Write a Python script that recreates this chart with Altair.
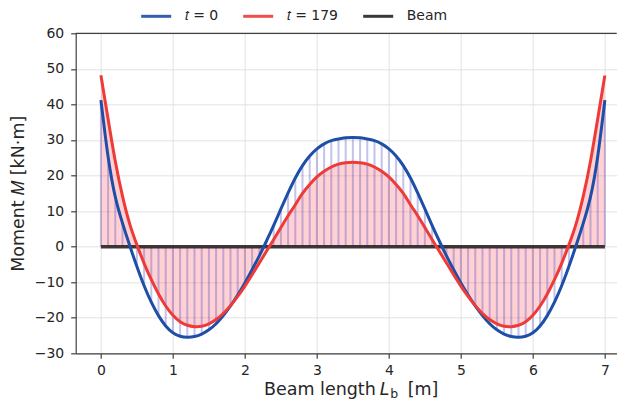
import altair as alt
import pandas as pd

# ---------------- data ----------------
x_pos = [round(i * 0.1, 1) for i in range(71)]  # sample positions along the beam [m]

m_t0 = [41.2, 25.3, 14.0, 6.6, 0.3, -5.6, -11.0, -15.6, -19.4, -22.3, -24.2, -25.2,
        -25.5, -25.3, -24.6, -23.4, -21.7, -19.4, -16.7, -13.6, -10.2, -6.5, -2.6, 1.6,
        6.0, 10.6, 15.1, 19.3, 22.8, 25.5, 27.5, 28.9, 29.8, 30.3, 30.6, 30.7, 30.6,
        30.3, 29.8, 28.9, 27.5, 25.5, 22.8, 19.3, 15.1, 10.6, 6.0, 1.6, -2.6, -6.5,
        -10.2, -13.6, -16.7, -19.4, -21.7, -23.4, -24.6, -25.3, -25.5, -25.2, -24.2,
        -22.3, -19.4, -15.6, -11.0, -5.6, 0.3, 6.6, 14.0, 25.3, 41.2]

m_t179 = [48.2, 35.9, 24.0, 14.2, 6.4, 0.5, -4.7, -9.3, -13.3, -16.7, -19.3, -21.1,
          -22.1, -22.5, -22.4, -21.7, -20.5, -18.8, -16.6, -14.0, -11.1, -7.9, -4.6, -1.3,
          2.0, 5.4, 8.7, 11.8, 15.0, 17.5, 19.6, 21.2, 22.4, 23.2, 23.6, 23.7, 23.6,
          23.2, 22.4, 21.2, 19.6, 17.5, 15.0, 11.8, 8.7, 5.4, 2.0, -1.3, -4.6, -7.9,
          -11.1, -14.0, -16.6, -18.8, -20.5, -21.7, -22.4, -22.5, -22.1, -21.1, -19.3,
          -16.7, -13.3, -9.3, -4.7, 0.5, 6.4, 14.2, 24.0, 35.9, 48.2]

beam_x = [0.0, 7.0]
beam_m = [0.0, 0.0]

series = ["𝑡 = 0", "𝑡 = 179", "Beam"]
series_colors = ["#1d4fa6", "#ee3b37", "#2a2222"]

x_ticks = [0, 1, 2, 3, 4, 5, 6, 7]
y_ticks = [-30, -20, -10, 0, 10, 20, 30, 40, 50, 60]

y_title = "Moment 𝑀 [kN·m]"
x_title_parts = ["Beam length", "L", "b", "[m]"]

FONT = "DejaVu Sans"
TXT = "#262626"
SPINE = "#404040"

W, H = 541, 320  # plot area in px

# ---------------- tables ----------------
wide = pd.DataFrame({"x": x_pos, "t0": m_t0, "t179": m_t179})
curves = pd.concat([
    pd.DataFrame({"x": x_pos, "M": m_t0, "series": series[0]}),
    pd.DataFrame({"x": x_pos, "M": m_t179, "series": series[1]}),
], ignore_index=True)
beam = pd.DataFrame({"x": beam_x, "M": beam_m, "series": series[2]})

xscale = alt.Scale(domain=[-0.35, 7.164], nice=False, zero=False)
yscale = alt.Scale(domain=[-30, 60], nice=False, zero=False)

minus_expr = "datum.value < 0 ? '−' + format(-datum.value, 'd') : format(datum.value, 'd')"


def X():
    return alt.X("x:Q", scale=xscale, title=None,
                 axis=alt.Axis(values=x_ticks, format="d", labelPadding=5.5))


def Y(field):
    return alt.Y(f"{field}:Q", scale=yscale, title=y_title,
                 axis=alt.Axis(values=y_ticks, labelExpr=minus_expr))


color = alt.Color(
    "series:N",
    scale=alt.Scale(domain=series, range=series_colors),
    legend=alt.Legend(
        title=None, orient="none", direction="horizontal",
        legendX=64, legendY=-33.5,
        symbolType="stroke", symbolSize=900, symbolStrokeWidth=3,
        labelFont=FONT, labelFontSize=14, labelColor=TXT,
        labelOffset=12, columnPadding=18, gridAlign="none",
    ),
)

area = alt.Chart(wide).mark_area(color="#ff4d5a", opacity=0.26, interpolate="natural").encode(
    x=X(), y=Y("t179"), y2=alt.datum(0)
)

rules = alt.Chart(wide).mark_rule(color="#4545c4", opacity=0.32, strokeWidth=2).encode(
    x=X(), y=Y("t0"), y2=alt.datum(0)
)

beam_line = alt.Chart(beam).mark_line(strokeWidth=3.5, opacity=0.9).encode(
    x=X(), y=Y("M"), color=color
)

lines = alt.Chart(curves).mark_line(strokeWidth=3, interpolate="natural").encode(
    x=X(), y=Y("M"), color=color
)

top_spine = alt.Chart(pd.DataFrame({"k": [0]})).mark_rule(color=SPINE, strokeWidth=1.2).encode(
    x=alt.value(0), x2=alt.value(W), y=alt.value(0)
)


def txt(s, cx, cy, size, style="normal"):
    return alt.Chart(pd.DataFrame({"t": [s]})).mark_text(
        align="center", baseline="alphabetic", font=FONT, fontSize=size,
        fontStyle=style, color=TXT
    ).encode(text="t:N", x=alt.value(cx), y=alt.value(cy))


TB = 362.2  # baseline of the x title, px below the plot top
t1 = txt(x_title_parts[0], 244.2, TB, 17.5)
t2 = txt(x_title_parts[1], 309.0, TB, 17.5, "italic")
t3 = txt(x_title_parts[2], 318.5, TB + 2.5, 12.5)
t4 = txt(x_title_parts[3], 347.3, TB, 17.5)

chart = alt.layer(area, rules, beam_line, lines, top_spine, t1, t2, t3, t4).properties(
    width=W, height=H,
    autosize=alt.AutoSizeParams(type="none"),
    padding={"left": 67.7, "top": 25.3, "right": 0, "bottom": 46.7},
).configure(font=FONT).configure_view(
    strokeWidth=0
).configure_axis(
    labelFont=FONT, labelFontSize=14, labelColor=TXT,
    titleFont=FONT, titleFontSize=17.5, titleFontWeight="normal", titleColor=TXT,
    titlePadding=7,
    domainColor=SPINE, domainWidth=1.2,
    tickColor=SPINE, tickSize=5, tickWidth=1.2, labelPadding=7,
    gridColor="#e3e3e3", gridWidth=1,
)

chart.save("out.html", embed_options={"renderer": "svg", "actions": False})
